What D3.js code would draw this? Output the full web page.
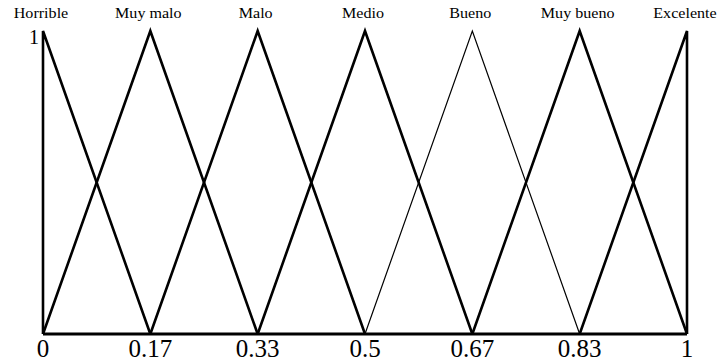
<!DOCTYPE html>
<html>
<head>
<meta charset="utf-8">
<script src="https://cdn.jsdelivr.net/npm/d3@7"></script>
<style>
  body { margin: 0; background: #fff; }
  svg { display: block; }
  text { font-family: "Liberation Serif", "Times New Roman", serif; fill: #000; }
</style>
</head>
<body>
<svg id="chart" width="719" height="363"></svg>
<script>
// Fuzzy sets: triangular membership functions over [0, 1]
const setNames = ["Horrible", "Muy malo", "Malo", "Medio", "Bueno", "Muy bueno", "Excelente"];
const peaks = [0, 1 / 6, 2 / 6, 3 / 6, 4 / 6, 5 / 6, 1];
const tickValues = [0, 1 / 6, 2 / 6, 3 / 6, 4 / 6, 5 / 6, 1];
const tickLabels = ["0", "0.17", "0.33", "0.5", "0.67", "0.83", "1"];

const svg = d3.select("#chart");
const x = d3.scaleLinear().domain([0, 1]).range([43, 687]);
const y = d3.scaleLinear().domain([0, 1]).range([334, 31]);

// each triangle: left foot, peak, right foot (clamped at the edges)
function triangle(i) {
  const left = i > 0 ? peaks[i - 1] : peaks[i];
  const right = i < peaks.length - 1 ? peaks[i + 1] : peaks[i];
  return [[left, 0], [peaks[i], 1], [right, 0]];
}

const line = d3.line()
  .x(d => x(d[0]))
  .y(d => y(d[1]));

svg.append("g")
  .selectAll("path")
  .data(setNames)
  .join("path")
  .attr("d", (d, i) => line(triangle(i)))
  .attr("fill", "none")
  .attr("stroke", "#000")
  .attr("stroke-width", d => d === "Bueno" ? 1.2 : 2.6)
  .attr("stroke-linejoin", "miter");

// baseline
svg.append("line")
  .attr("x1", x(0))
  .attr("x2", x(1))
  .attr("y1", y(0))
  .attr("y2", y(0))
  .attr("stroke", "#000")
  .attr("stroke-width", 3);

// set names above each peak (the source text is a bit stretched sideways)
svg.append("g")
  .selectAll("text")
  .data(setNames)
  .join("text")
  .attr("transform", (d, i) => `translate(${x(peaks[i]) - 2},18) scale(1.15,1)`)
  .attr("text-anchor", "middle")
  .attr("font-size", 14)
  .text(d => d);

// x tick labels
svg.append("g")
  .selectAll("text")
  .data(tickValues)
  .join("text")
  .attr("x", d => x(d))
  .attr("y", 357)
  .attr("text-anchor", "middle")
  .attr("font-size", 25)
  .text((d, i) => tickLabels[i]);

// membership value 1
svg.append("text")
  .attr("x", x(0) - 4)
  .attr("y", 44)
  .attr("text-anchor", "end")
  .attr("font-size", 20)
  .text("1");
</script>
</body>
</html>
